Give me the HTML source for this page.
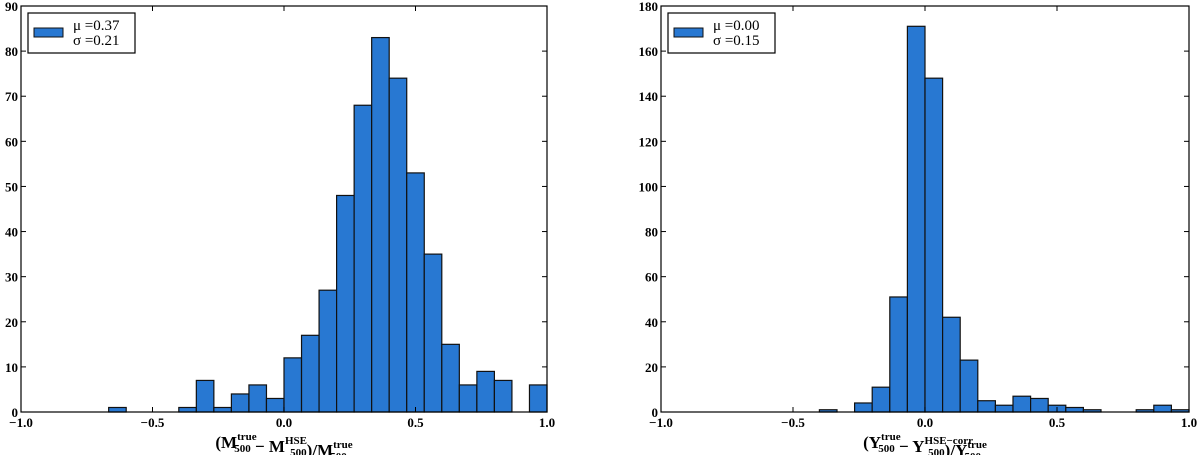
<!DOCTYPE html>
<html><head><meta charset="utf-8"><style>
body{margin:0;background:#fff;width:1200px;height:455px;overflow:hidden}
svg text{font-family:"Liberation Serif",serif}
.tk{font-weight:bold;font-size:13px}
</style></head><body>
<svg id="s" width="1200" height="455" xmlns="http://www.w3.org/2000/svg"></svg>
<script>
const binEdgesStart = -1, binWidth = 2/30;
const leftCounts = [0,0,0,0,0,1,0,0,0,1,7,1,4,6,3,12,17,27,48,68,83,74,53,35,15,6,9,7,0,6];
const rightCounts = [0,0,0,0,0,0,0,0,0,1,0,4,11,51,171,148,42,23,5,3,7,6,3,2,1,0,0,1,3,1];
const xTicks = [-1.0,-0.5,0.0,0.5,1.0];
const xTickLabels = ["\u22121.0","\u22120.5","0.0","0.5","1.0"];
const leftYTicks = [0,10,20,30,40,50,60,70,80,90];
const rightYTicks = [0,20,40,60,80,100,120,140,160,180];
const leftLegend = ["\u03bc =0.37","\u03c3 =0.21"];
const rightLegend = ["\u03bc =0.00","\u03c3 =0.15"];

const NS="http://www.w3.org/2000/svg", svg=document.getElementById('s');
function mk(t,a,p){const e=document.createElementNS(NS,t);for(const k in a)e.setAttribute(k,a[k]);(p||svg).appendChild(e);return e;}

function panel(name,L,R,T,B,counts,yTicks,ymax,legend,xlabelParts){
  const g=mk('g',{});
  
  
  const xs=v=>L+(v+1)/2*(R-L), ys=v=>B-v/ymax*(B-T);
  counts.forEach((c,i)=>{
    if(c<=0)return;
    const x0=xs(binEdgesStart+i*binWidth), x1=xs(binEdgesStart+(i+1)*binWidth);
    const r=mk('rect',{x:x0,y:ys(c),width:x1-x0,height:B-ys(c),fill:'#2878d2',stroke:'#111','stroke-width':1.2},g);
    
    
  });
  mk('rect',{x:L,y:T,width:R-L,height:B-T,fill:'none',stroke:'#000','stroke-width':1.2},g);
  xTicks.forEach((v,i)=>{
    const x=xs(v);
    mk('line',{x1:x,x2:x,y1:B,y2:B-5,stroke:'#000'},g);
    mk('line',{x1:x,x2:x,y1:T,y2:T+5,stroke:'#000'},g);
    const t=mk('text',{x:x,y:B+15,'text-anchor':'middle',class:'tk'},g);t.textContent=xTickLabels[i];
    
    
  });
  yTicks.forEach(v=>{
    const y=ys(v);
    mk('line',{x1:L,x2:L+5,y1:y,y2:y,stroke:'#000'},g);
    mk('line',{x1:R,x2:R-5,y1:y,y2:y,stroke:'#000'},g);
    const t=mk('text',{x:L-3,y:y+5,'text-anchor':'end',class:'tk'},g);t.textContent=v;
    
    
  });
  const lg=mk('g',{},g);
  
  
  mk('rect',{x:L+7,y:T+7,width:107,height:40,fill:'#fff',stroke:'#000','stroke-width':1.2},lg);
  mk('rect',{x:L+13,y:T+22,width:29,height:9,fill:'#2878d2',stroke:'#111','stroke-width':1},lg);
  legend.forEach((s,i)=>{const t=mk('text',{x:L+52,y:T+24+i*15,'font-size':'15px','font-family':'Liberation Sans'},lg);t.textContent=s;});
  const xl=mk('text',{x:(L+R)/2,y:448,'text-anchor':'middle','font-size':'17px','font-weight':'bold'},g);
  
  
  xlabelParts.forEach(p=>{
    const ts=mk('tspan',{},xl);
    if(p.length>1){ts.textContent=p[0];
      const a=mk('tspan',{'font-size':'11px',dy:-8},xl);a.textContent=p[1];
      const b=mk('tspan',{'font-size':'11px',dy:12,dx:-(p[1].length*5.6)},xl);b.textContent='500';
      const c=mk('tspan',{dy:-4},xl);c.textContent='';
    } else ts.textContent=p[0];
  });
}
panel('left-histogram',21,547,6,412,leftCounts,leftYTicks,90,leftLegend,
  [['('],['M','true'],[' \u2212 '],['M','HSE'],[')/'],['M','true']]);
panel('right-histogram',661,1189,6,412,rightCounts,rightYTicks,180,rightLegend,
  [['('],['Y','true'],[' \u2212 '],['Y','HSE\u2212corr'],[')/'],['Y','true']]);
</script>
</body></html>
